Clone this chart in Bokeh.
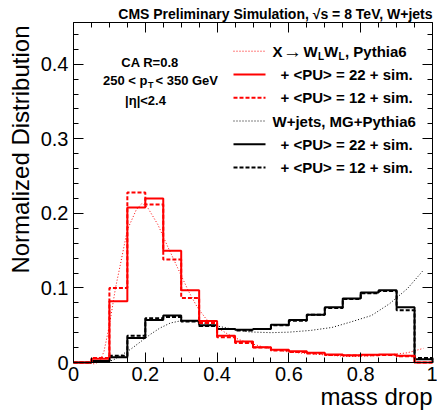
from bokeh.plotting import figure
from bokeh.models import Label, LinearAxis, FixedTicker, CustomJSTickFormatter, Range1d
from bokeh.embed import file_html
from bokeh.resources import INLINE

# ---------------- data ----------------
bin_edges = [0.00, 0.05, 0.10, 0.15, 0.20, 0.25, 0.30, 0.35, 0.40, 0.45, 0.50,
             0.55, 0.60, 0.65, 0.70, 0.75, 0.80, 0.85, 0.90, 0.95, 1.00]

# X -> WLWL, <PU>=22 + sim (red solid)
sig_pu22 = [0.000, 0.005, 0.082, 0.208, 0.220, 0.150, 0.097, 0.0555, 0.036, 0.028,
            0.0206, 0.017, 0.0152, 0.013, 0.0107, 0.0098, 0.0103, 0.0107, 0.009, 0.000]
# X -> WLWL, <PU>=12 + sim (red dashed)
sig_pu12 = [0.000, 0.006, 0.100, 0.228, 0.212, 0.138, 0.0864, 0.053, 0.034, 0.026,
            0.020, 0.016, 0.014, 0.012, 0.010, 0.0095, 0.0098, 0.010, 0.0085, 0.000]
# W+jets, <PU>=22 + sim (black solid)
bkg_pu22 = [0.000, 0.002, 0.007, 0.033, 0.057, 0.063, 0.056, 0.050, 0.045, 0.044,
            0.045, 0.0505, 0.057, 0.064, 0.074, 0.086, 0.094, 0.097, 0.074, 0.0045]
# W+jets, <PU>=12 + sim (black dashed)
bkg_pu12 = [0.000, 0.002, 0.009, 0.036, 0.0595, 0.061, 0.055, 0.049, 0.045, 0.043,
            0.045, 0.050, 0.056, 0.064, 0.073, 0.085, 0.093, 0.096, 0.070, 0.006]

# generator-level Pythia6 curves (dotted)
sig_gen_x = [0.03, 0.06, 0.075, 0.085, 0.10, 0.117, 0.13, 0.15, 0.175, 0.19, 0.205,
             0.235, 0.26, 0.29, 0.32, 0.345, 0.37, 0.40, 0.43, 0.46, 0.49, 0.55,
             0.60, 0.66, 0.72, 0.77, 0.83, 0.88, 0.93, 0.975]
sig_gen_y = [0.000, -0.002, 0.003, 0.015, 0.050, 0.100, 0.130, 0.178, 0.205, 0.213, 0.209,
             0.185, 0.158, 0.127, 0.096, 0.074, 0.058, 0.047, 0.038, 0.031, 0.026, 0.018,
             0.014, 0.0117, 0.0094, 0.008, 0.009, 0.0103, 0.013, 0.019]
bkg_gen_x = [0.08, 0.11, 0.13, 0.16, 0.19, 0.215, 0.24, 0.27, 0.30, 0.33, 0.355, 0.38,
             0.41, 0.44, 0.49, 0.55, 0.60, 0.66, 0.72, 0.77, 0.83, 0.88, 0.93, 0.975]
bkg_gen_y = [0.000, 0.003, 0.009, 0.018, 0.029, 0.038, 0.046, 0.053, 0.056, 0.056, 0.054,
             0.051, 0.048, 0.045, 0.041, 0.040, 0.0407, 0.043, 0.047, 0.054, 0.063,
             0.0787, 0.099, 0.124]

x_major = [0.0, 0.2, 0.4, 0.6, 0.8, 1.0]
y_major = [0.0, 0.1, 0.2, 0.3, 0.4]

legend_labels = ["+ <PU> = 22 + sim.", "+ <PU> = 12 + sim.",
                 "W+jets, MG+Pythia6", "+ <PU> = 22 + sim.", "+ <PU> = 12 + sim."]

# ---------------- layout helpers ----------------
FONT = "Liberation Sans"
YMAX = 0.456
W, H = 437, 410
# axes box in page pixels: x 73..432, y 22..362
PX0, PX1, PY0, PY1 = 73.0, 432.0, 362.0, 22.0
SX = (PX1 - PX0) / 1.0
SY = (PY0 - PY1) / YMAX


def X(px):
    return (px - PX0) / SX


def Y(py):
    return (PY0 - py) / SY


def step_xy(edges, vals):
    xs, ys = [edges[0]], [0.0]
    for i, v in enumerate(vals):
        xs += [edges[i], edges[i + 1]]
        ys += [v, v]
    xs.append(edges[-1])
    ys.append(0.0)
    return xs, ys


# the frame covers the whole canvas; axes are pinned at the box edges
p = figure(width=W, height=H, x_range=Range1d(X(0), X(W)), y_range=Range1d(Y(H), Y(0)),
           output_backend="svg", toolbar_location=None,
           x_axis_location=None, y_axis_location=None,
           min_border_left=0, min_border_right=0, min_border_top=0, min_border_bottom=0)
p.background_fill_color = "white"
p.border_fill_color = "white"
p.outline_line_color = None
for g in p.grid:
    g.visible = False

fmt = CustomJSTickFormatter(code="""
if (Math.abs(tick) < 1e-9) return '0';
if (Math.abs(tick - 1) < 1e-9) return '1';
return tick.toFixed(1);
""")

xt = FixedTicker(ticks=x_major, minor_ticks=[round(0.05 * i, 2) for i in range(21)])
yt = FixedTicker(ticks=y_major, minor_ticks=[round(0.02 * i, 2) for i in range(23)])


def style(ax, show):
    ax.major_tick_in = 10
    ax.major_tick_out = 0
    ax.minor_tick_in = 5
    ax.minor_tick_out = 0
    ax.axis_line_color = "black"
    ax.major_tick_line_color = "black"
    ax.minor_tick_line_color = "black"
    ax.major_label_text_font = FONT
    ax.major_label_text_font_size = "20px"
    ax.major_label_standoff = 5
    ax.major_label_text_color = "black" if show else None


ax_b = LinearAxis(ticker=xt, formatter=fmt, fixed_location=0.0, bounds=(0.0, 1.0))
ax_l = LinearAxis(ticker=yt, formatter=fmt, fixed_location=0.0, bounds=(0.0, YMAX))
ax_t = LinearAxis(ticker=xt, formatter=fmt, fixed_location=YMAX, bounds=(0.0, 1.0))
ax_r = LinearAxis(ticker=yt, formatter=fmt, fixed_location=1.0, bounds=(0.0, YMAX))
style(ax_b, True)
style(ax_l, True)
style(ax_t, False)
style(ax_r, False)
ax_b.major_label_standoff = 4
p.add_layout(ax_b, "below")
p.add_layout(ax_l, "left")
p.add_layout(ax_t, "above")
p.add_layout(ax_r, "right")

RED = "#ff0000"
# dotted generator curves
p.line(sig_gen_x, sig_gen_y, line_color=RED, line_width=1, line_dash="1 2")
p.line(bkg_gen_x, bkg_gen_y, line_color="black", line_width=1, line_dash="1 2")

# histograms
for vals, col, dash in [(bkg_pu12, "black", "4 2"), (bkg_pu22, "black", "solid"),
                        (sig_pu12, RED, "4 2"), (sig_pu22, RED, "solid")]:
    xs, ys = step_xy(bin_edges, vals)
    p.line(xs, ys, line_color=col, line_width=2, line_dash=dash)


def lab(px, py, text, size, align="left", baseline="middle", style="bold", angle=0.0):
    p.add_layout(Label(x=X(px), y=Y(py), text=text, text_font=FONT, text_font_size=size,
                       text_font_style=style, text_align=align, text_baseline=baseline,
                       text_color="black", angle=angle))


# title
lab(432, 13.4, "CMS Preliminary Simulation, \u221as = 8 TeV, W+jets", "14px",
    align="right")
# axis titles
lab(432, 395.5, "mass drop", "24px", align="right", style="normal")
lab(20.2, 25, "Normalized Distribution", "24px", align="right",
    style="normal", angle=1.5707963)

# info text
lab(149.5, 62, "CA R=0.8", "13px", align="center")
lab(147, 80, "250 < p", "13px", align="right")
lab(147.5, 84, "T", "9px")
lab(155, 80, "< 350 GeV", "13px")
lab(145, 100, "|\u03b7|<2.4", "13px", align="center")

# legend
rows = [50.7, 74, 97.3, 120.5, 143.8, 167]
leg_styles = [(RED, 1, "1 2"), (RED, 2, "solid"), (RED, 2, "4 2"),
              ("black", 1, "1 2"), ("black", 2, "solid"), ("black", 2, "4 2")]
for r, (c, w, d) in zip(rows, leg_styles):
    p.line([X(233), X(265)], [Y(r), Y(r)], line_color=c, line_width=w, line_dash=d)

# first entry with subscripts
lab(272, rows[0], "X", "15px")
lab(292, rows[0] + 0.5, "\u2192", "19px", align="center", style="normal")
lab(303, rows[0], "W", "15px")
lab(317.5, rows[0] + 5, "L", "10px")
lab(323.5, rows[0], "W", "15px")
lab(338, rows[0] + 5, "L", "10px")
lab(344.5, rows[0], ", Pythia6", "15px")
for r, t in zip(rows[1:], legend_labels):
    lab(272 if t.startswith("W") else 280, r, t, "15px")

html = file_html(p, INLINE)
open("out.html", "w").write(html)
